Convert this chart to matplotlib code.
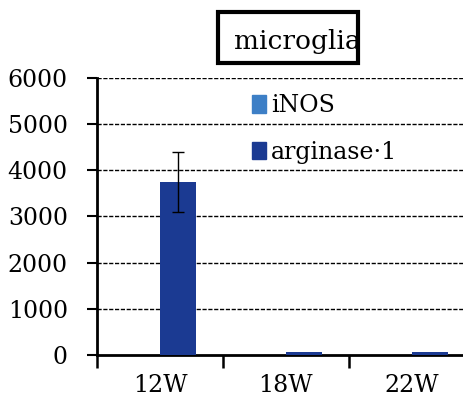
import matplotlib.pyplot as plt
from matplotlib.patches import Patch, Rectangle
import numpy as np

# data
weeks = ["12W", "18W", "22W"]
inos = [5, 5, 5]
arginase = [3750, 60, 70]
arginase_err = [650, 0, 0]

plt.rcParams['font.family'] = ['DejaVu Serif', 'Liberation Serif']

fig = plt.figure(figsize=(4.63, 4.01), dpi=100)
ax = fig.add_axes([0.2095, 0.1147, 0.816, 0.691])

x = np.arange(len(weeks))
w = 0.286
c_inos = "#3d7fc6"
c_arg = "#1b3a92"

ax.bar(x - w / 2, inos, w, color=c_inos, zorder=3)
ax.bar(x + w / 2, arginase, w, color=c_arg, zorder=3)

# only draw the error bars that are non zero
for xi, yi, ei in zip(x, arginase, arginase_err):
    if ei > 0:
        ax.errorbar(xi + w / 2, yi, yerr=ei, color="black", lw=1.0,
                    capsize=4, capthick=1.0, zorder=4)

ax.set_xlim(-0.5, 2.5)
ax.set_ylim(0, 6000)
ax.set_yticks(range(0, 7000, 1000))
ax.set_xticks(x)
ax.set_xticklabels(weeks, fontsize=17)
ax.tick_params(axis="y", labelsize=17, length=7, width=1.5, direction="out", pad=14)
ax.tick_params(axis="x", length=0, pad=14)
# ticks on the category boundaries
ax.set_xticks([-0.5, 0.5, 1.5, 2.5], minor=True)
ax.tick_params(axis="x", which="minor", length=9, width=1.8, direction="out")

for v in range(1000, 7000, 1000):
    ax.axhline(v, color="black", lw=1.0, ls=(0, (3, 1.2)), zorder=1)

for s in ["top", "right"]:
    ax.spines[s].set_visible(False)
ax.spines["left"].set_linewidth(2)
ax.spines["bottom"].set_linewidth(2)

handles = [Patch(color=c_inos, label="iNOS"), Patch(color=c_arg, label="arginase·1")]
ax.legend(handles=handles, loc="upper left", bbox_to_anchor=(0.385, 0.975),
          frameon=False, fontsize=17, handlelength=0.6, handleheight=0.75,
          handletextpad=0.2, labelspacing=1.0, borderaxespad=0)

# title box is narrower than the text in the original
fig.patches.append(Rectangle((218 / 463, 1 - 63 / 401), 140 / 463, 51 / 401,
                             transform=fig.transFigure, fill=False,
                             ec="black", lw=3))
fig.text(297 / 463, 1 - 42 / 401, "microglia", ha="center", va="center",
         fontsize=19)

fig.savefig("out.png", dpi=100)
